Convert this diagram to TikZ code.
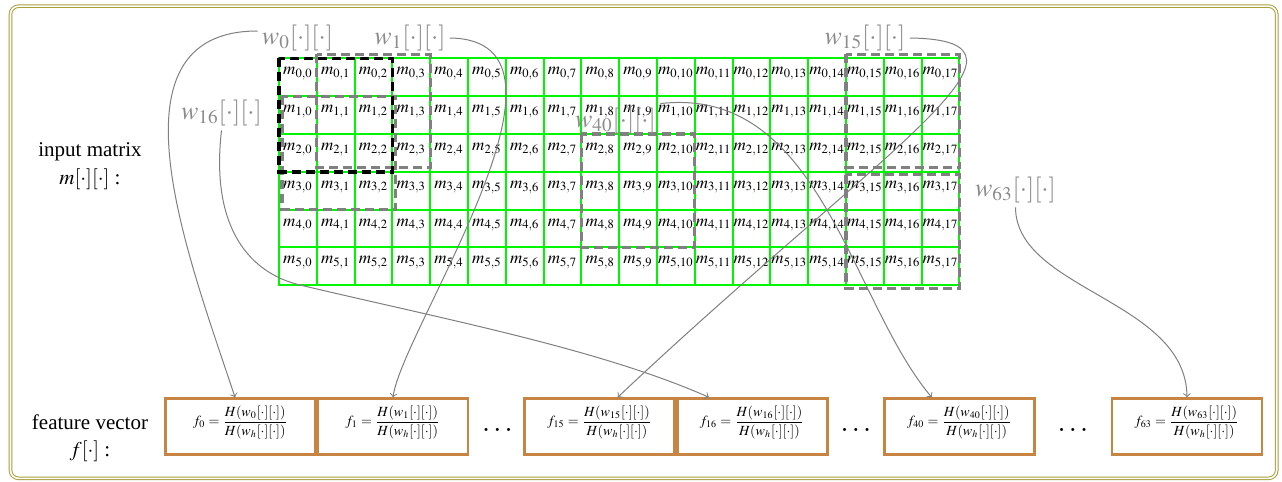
\documentclass[tikz,border=0pt]{standalone}
\usepackage{mathptmx}
\usepackage{fontspec}
\setmainfont{Liberation Serif}
\usetikzlibrary{calc}

\definecolor{framecol}{RGB}{168,158,58}
\definecolor{boxcol}{RGB}{200,132,66}
\definecolor{wingray}{RGB}{128,128,128}
\definecolor{labelgray}{RGB}{140,140,140}
\definecolor{gridgreen}{RGB}{0,245,0}

\begin{document}
\begin{tikzpicture}[x=0.5pt,y=-0.5pt,
  gridline/.style={draw=gridgreen,line width=1pt,line cap=rect},
  cell/.style={inner sep=0pt,font=\fontsize{8.5}{10}\selectfont},
  winlabel/.style={text=labelgray,inner sep=2pt,font=\fontsize{13}{15}\selectfont},
  graywin/.style={draw=wingray,line width=1.6pt,dash pattern=on 4.5pt off 2.5pt},
  blackwin/.style={draw=black,line width=1.7pt,dash pattern=on 4.5pt off 2.5pt},
  featbox/.style={draw=boxcol,line width=1.4pt,minimum width=75pt,minimum height=28pt,
    inner sep=0pt,font=\fontsize{7}{8}\selectfont,text height=8pt,text depth=8.9pt},
  conn/.style={draw=wingray,line width=0.5pt,->},
  sidetext/.style={align=center,inner sep=0pt},
  dotsnode/.style={font=\fontsize{14.5}{16}\selectfont,inner sep=0pt,anchor=base}
]
% canvas and frame
\fill[white] (0,0) rectangle (1282,482);
\useasboundingbox (0,0) rectangle (1282,482);
\draw[draw=framecol,line width=0.5pt,double=white,double distance=0.8pt,rounded corners=4pt]
  (10.5,6.2) rectangle (1276.7,478.3);

% input matrix grid
\foreach \i in {0,...,18} \draw[gridline] (279+\i*37.8,58.4) -- (279+\i*37.8,285.2);
\foreach \j in {0,...,6} \draw[gridline] (279,58.4+\j*37.8) -- (959.4,58.4+\j*37.8);
\foreach \r in {0,...,5}
  \foreach \c in {0,...,17}
    \node[cell] (m-\r-\c) at (297.9+37.8*\c,73.8+37.8*\r) {$m_{\r,\c}$};

% sliding windows
\draw[graywin] (316.8,54.4) rectangle (430.2,167.8);
\draw[graywin] (282,96.2) rectangle (395.4,209.6);
\draw[graywin] (581.4,134) rectangle (694.8,247.4);
\draw[graywin] (846,54.4) rectangle (959.4,167.8);
\draw[graywin] (846,174.8) rectangle (959.4,288.2);
\draw[blackwin] (279,58.4) rectangle (392.4,171.8);

% window labels
\node[winlabel] (w0) at (297.5,38) {$w_{0}[\cdot][\cdot]$};
\node[winlabel] (w1) at (410,38) {$w_{1}[\cdot][\cdot]$};
\node[winlabel] (w15) at (865,38) {$w_{15}[\cdot][\cdot]$};
\node[winlabel] (w16) at (221.5,113) {$w_{16}[\cdot][\cdot]$};
\node[winlabel] (w40) at (615.5,121) {$w_{40}[\cdot][\cdot]$};
\node[winlabel] (w63) at (1015.5,190) {$w_{63}[\cdot][\cdot]$};

% side captions
\node[sidetext,font=\fontsize{10.5}{14}\selectfont] (inlabel) at (90,166) {input matrix\\$m[\cdot][\cdot]$ :};
\node[sidetext,font=\fontsize{10.5}{13.5}\selectfont] (outlabel) at (90,438) {feature vector\\$f[\cdot]$ :};

% feature vector boxes
\node[featbox] (f0) at (240.5,426.7) {$\displaystyle f_{0} = \frac{H(w_{0}[\cdot][\cdot])}{H(w_{h}[\cdot][\cdot])}$};
\node[featbox] (f1) at (393,426.7) {$\displaystyle f_{1} = \frac{H(w_{1}[\cdot][\cdot])}{H(w_{h}[\cdot][\cdot])}$};
\node[featbox] (f15) at (599.7,426.7) {$\displaystyle f_{15} = \frac{H(w_{15}[\cdot][\cdot])}{H(w_{h}[\cdot][\cdot])}$};
\node[featbox] (f16) at (752.2,426.7) {$\displaystyle f_{16} = \frac{H(w_{16}[\cdot][\cdot])}{H(w_{h}[\cdot][\cdot])}$};
\node[featbox] (f40) at (959.5,426.7) {$\displaystyle f_{40} = \frac{H(w_{40}[\cdot][\cdot])}{H(w_{h}[\cdot][\cdot])}$};
\node[featbox] (f63) at (1187,426.7) {$\displaystyle f_{63} = \frac{H(w_{63}[\cdot][\cdot])}{H(w_{h}[\cdot][\cdot])}$};

\node[dotsnode] (dots1) at (497.5,431) {$\dots$};
\node[dotsnode] (dots2) at (856,431) {$\dots$};
\node[dotsnode] (dots3) at (1073,431) {$\dots$};

% connectors from windows to features
\draw[conn] ([yshift=3.5pt]w0.west) .. controls (100,31) and (190,261) .. ([xshift=-2.75pt]f0.north);
\draw[conn] (w1.east) .. controls (600,40) and (402,330) .. (f1.north);
\draw[conn] (w15.east) .. controls (1065,40) and (880,150) .. ([xshift=9pt]f15.north);
\draw[conn] (w16.south) .. controls (210,230) and (251.5,273.5) .. (300,285)
  .. controls (445.5,319.5) and (599.6,349) .. ([xshift=-21.6pt]f16.north);
\draw[conn] (w40.north east) .. controls (820,85) and (850,300) .. ([xshift=-13.9pt]f40.north);
\draw[conn] (w63.south) .. controls (1016,290) and (1186,300) .. (f63.north);
\end{tikzpicture}
\end{document}
